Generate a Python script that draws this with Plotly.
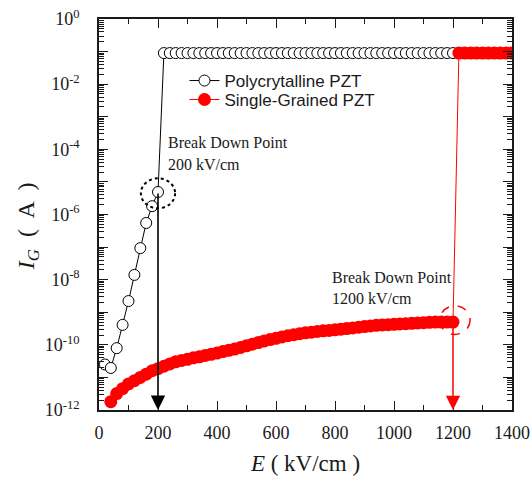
import plotly.graph_objects as go
import math

# ---------------- data ----------------
poly_field = [20, 40, 60, 80, 100, 120, 140, 160, 180, 200] + list(range(220, 1201, 20))
poly_current = [2.5e-11, 1.95e-11, 7.9e-11, 4.1e-10, 2.2e-9, 1.4e-8, 9.3e-8, 5.5e-7, 1.8e-6, 4.9e-6] + [0.09] * 50

single_field = list(range(40, 1201, 20)) + list(range(1220, 1401, 20))
single_current = [
    1.8e-12, 3.2e-12, 4.5e-12, 6.3e-12, 7.9e-12, 1.0e-11, 1.26e-11, 1.6e-11, 1.86e-11,
    2.2e-11, 2.6e-11, 3.0e-11, 3.3e-11, 3.6e-11, 4.0e-11, 4.3e-11, 4.7e-11, 5.1e-11,
    5.6e-11, 6.2e-11, 6.8e-11, 7.4e-11, 8.3e-11, 9.3e-11, 1.05e-10, 1.17e-10, 1.32e-10,
    1.45e-10, 1.58e-10, 1.74e-10, 1.9e-10, 2.04e-10, 2.19e-10, 2.34e-10, 2.45e-10,
    2.57e-10, 2.69e-10, 2.75e-10, 2.88e-10, 3.02e-10, 3.16e-10, 3.3e-10, 3.47e-10,
    3.63e-10, 3.8e-10, 3.98e-10, 4.07e-10, 4.17e-10, 4.27e-10, 4.37e-10, 4.47e-10,
    4.57e-10, 4.68e-10, 4.79e-10, 4.9e-10, 5.0e-10, 5.0e-10, 5.0e-10, 5.0e-10,
] + [0.09] * 10

x_tick_vals = [0, 200, 400, 600, 800, 1000, 1200, 1400]
x_tick_text = ["0", "200", "400", "600", "800", "1000", "1200", "1400"]
y_tick_exps = list(range(-12, 1))
y_tick_text = ["10<sup>%d</sup>" % e if e % 2 == 0 else "" for e in y_tick_exps]

poly_break_field = 200
single_break_field = 1200
poly_break_current = poly_current[poly_field.index(poly_break_field)]
single_break_current = single_current[single_field.index(single_break_field)]

# ---------------- figure ----------------
SERIF = "Liberation Serif, Times New Roman, serif"
SANS = "Liberation Sans, Arial, sans-serif"
INK = "#1a1a1a"

fig = go.Figure()

fig.add_trace(go.Scatter(
    x=poly_field, y=poly_current, mode="lines+markers",
    name="Polycrytalline PZT", legend="legend",
    line=dict(color="black", width=1),
    marker=dict(symbol="circle", size=11, color="white", line=dict(color="black", width=1)),
))
fig.add_trace(go.Scatter(
    x=single_field, y=single_current, mode="lines+markers",
    name="Single-Grained PZT", legend="legend2",
    line=dict(color="#ff0000", width=1),
    marker=dict(symbol="circle", size=13, color="#ff0000", line=dict(width=0)),
))

# arrows to the axis
fig.add_annotation(
    x=poly_break_field, y=-12, ax=poly_break_field, ay=math.log10(poly_break_current),
    xref="x", yref="y", axref="x", ayref="y", text="", showarrow=True,
    arrowhead=2, arrowsize=1.8, arrowwidth=1.6, arrowcolor="black", standoff=0, startstandoff=0,
)
fig.add_annotation(
    x=single_break_field, y=-12, ax=single_break_field, ay=math.log10(single_break_current),
    xref="x", yref="y", axref="x", ayref="y", text="", showarrow=True,
    arrowhead=2, arrowsize=1.9, arrowwidth=1.5, arrowcolor="#ff0000", standoff=0, startstandoff=0,
)

# dashed circles (data-coordinate extents around the breakdown points)
fig.add_shape(type="circle", xref="x", yref="y",
              x0=poly_break_field - 58, x1=poly_break_field + 58,
              y0=poly_break_current / 10 ** 0.5, y1=poly_break_current * 10 ** 0.42,
              line=dict(color="black", width=2, dash="dot"))
fig.add_shape(type="circle", xref="x", yref="y",
              x0=single_break_field - 45, x1=single_break_field + 58,
              y0=single_break_current / 10 ** 0.38, y1=single_break_current * 10 ** 0.5,
              line=dict(color="#ff0000", width=1.5, dash="dash"))

# text annotations
for (xp, yp, txt) in [(0.162, 0.683, "Break Down Point"), (0.162, 0.627, "200 kV/cm"),
                      (0.559, 0.340, "Break Down Point"), (0.559, 0.286, "1200 kV/cm")]:
    fig.add_annotation(x=xp, y=yp, xref="paper", yref="paper", text=txt, showarrow=False,
                       xanchor="left", yanchor="middle",
                       font=dict(family=SERIF, size=16, color=INK))

# y-axis title as a rotated annotation
fig.add_annotation(x=-0.172, y=0.47, xref="paper", yref="paper",
                   text="<i>I</i><sub><i>G</i></sub>  (  A  )", showarrow=False, textangle=-90,
                   xanchor="center", yanchor="middle",
                   font=dict(family=SERIF, size=24, color=INK))

legend_style = dict(xanchor="left", yanchor="top", bgcolor="rgba(0,0,0,0)",
                    font=dict(family=SANS, size=17, color=INK), itemwidth=30)

fig.update_layout(
    width=531, height=482,
    margin=dict(l=99, r=19, t=19, b=72, autoexpand=False),
    paper_bgcolor="white", plot_bgcolor="white",
    showlegend=True,
    legend=dict(x=0.207, y=0.8875, **legend_style),
    legend2=dict(x=0.207, y=0.839, **legend_style),
)

fig.update_xaxes(
    range=[0, 1400], showline=True, linecolor=INK, linewidth=1.5, mirror="allticks",
    ticks="inside", ticklen=9, tickwidth=1.2, tickcolor=INK, automargin=False,
    tickvals=x_tick_vals, ticktext=x_tick_text, showgrid=False, zeroline=False,
    tickfont=dict(family=SERIF, size=18, color=INK), ticklabelstandoff=6,
    ticklabeloverflow="allow",
    minor=dict(ticks="inside", ticklen=5, tickwidth=1.2, tickcolor=INK,
               tickvals=[100, 300, 500, 700, 900, 1100, 1300], showgrid=False),
    title=dict(text="<i>E</i> ( kV/cm )", font=dict(family=SERIF, size=23, color=INK), standoff=13),
)

minor_y = [k * 10.0 ** e for e in range(-12, 0) for k in range(2, 10)]
fig.update_yaxes(
    type="log", range=[-12, 0], showline=True, linecolor=INK, linewidth=1.5, mirror="allticks",
    ticks="inside", ticklen=9, tickwidth=1.2, tickcolor=INK, automargin=False,
    tickvals=[10.0 ** e for e in y_tick_exps], ticktext=y_tick_text,
    showgrid=False, zeroline=False, ticklabeloverflow="allow",
    tickfont=dict(family=SERIF, size=18, color=INK), ticklabelstandoff=14,
    minor=dict(ticks="inside", ticklen=5, tickwidth=1, tickcolor=INK,
               tickvals=minor_y, showgrid=False),
)

fig.write_html(
    "out.html",
    config={"displayModeBar": False},
    post_script="document.body.style.margin='0';document.body.style.overflow='hidden';",
)
